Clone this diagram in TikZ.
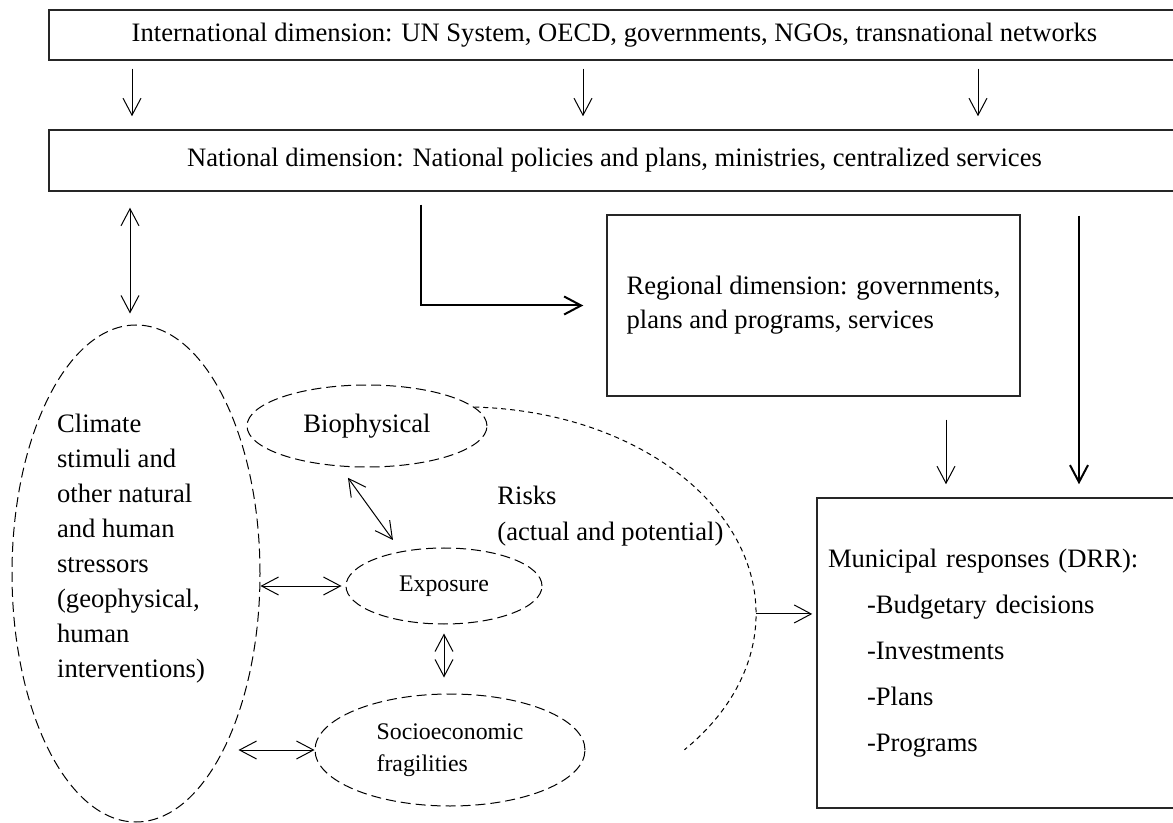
\documentclass[tikz,border=0pt]{standalone}
\usepackage{fontspec}
\setmainfont{Liberation Serif}
\usetikzlibrary{shapes.geometric,arrows.meta}
\begin{document}
\begin{tikzpicture}[x=0.5pt, y=-0.5pt, >={Straight Barb[length=8.5pt,width=9pt]},
    box_style/.style={rectangle, draw=black!85, line width=0.75pt, inner sep=0pt, font=\fontsize{13.3}{17}\selectfont},
    zone_style/.style={ellipse, draw, dash pattern=on 5pt off 2.5pt, line width=0.5pt, inner sep=0pt, font=\fontsize{13.3}{17}\selectfont},
    small_zone_style/.style={zone_style, font=\fontsize{11.9}{16}\selectfont},
    text_style/.style={inner sep=0pt, align=left, font=\fontsize{13.3}{17.5}\selectfont},
    arrow_line/.style={draw=black, line width=0.5pt, ->},
    both_line/.style={draw=black, line width=0.5pt, <->},
    thick_line/.style={draw=black, line width=1pt, ->},
    risk_line/.style={draw=black, line width=0.5pt, dash pattern=on 2.5pt off 2pt}]

    \useasboundingbox (0,0) rectangle (1173,823);
    \clip (0,0) rectangle (1173,823);

    \node[box_style, minimum width=565.5pt, minimum height=25pt] (intl) at (614.5,35) {International dimension: UN System, OECD, governments, NGOs, transnational networks};
    \node[box_style, minimum width=565.5pt, minimum height=30.5pt] (natl) at (614.5,160.5) {National dimension: National policies and plans, ministries, centralized services};
    \node[box_style, minimum width=206.5pt, minimum height=90.5pt, align=left] (region) at (813.5,305.5) {Regional dimension: governments,\\plans and programs, services};
    \node[box_style, minimum width=181.5pt, minimum height=155pt, text width=170.5pt, inner xsep=5.5pt, align=left, font=\fontsize{13.3}{23}\selectfont] (muni) at (998.5,653) {Municipal responses (DRR):\\\hspace*{19.5pt}-Budgetary decisions\\\hspace*{19.5pt}-Investments\\\hspace*{19.5pt}-Plans\\\hspace*{19.5pt}-Programs};

    \node[zone_style, minimum width=124pt, minimum height=248.5pt] (climate) at (136,573.5) {};
    \node[text_style] (climatetext) at (131,549) {Climate\\stimuli and\\other natural\\and human\\stressors\\(geophysical,\\human\\interventions)};
    \node[zone_style, minimum width=120pt, minimum height=41pt] (bio) at (367,426) {Biophysical};
    \node[small_zone_style, minimum width=98pt, minimum height=38pt] (exp) at (444,586) {Exposure};
    \node[small_zone_style, minimum width=135pt, minimum height=56pt, align=left] (socio) at (450,750) {Socioeconomic\\fragilities};
    \node[text_style, font=\fontsize{13.3}{18}\selectfont, anchor=west] (risks) at (497,516) {Risks\\(actual and potential)};

    \foreach \x in {132,583,978}
        \draw[arrow_line, shorten <=4pt, shorten >=6.5pt] (intl.south -| \x,0) -- (natl.north -| \x,0);
    \draw[both_line, shorten <=8pt, shorten >=5.5pt] (natl.south -| 130,0) -- (climate.north -| 130,0);
    \draw[thick_line, shorten <=6.5pt, shorten >=11.5pt] (natl.south -| 421,0) |- (region.west);
    \draw[thick_line, shorten <=12pt, shorten >=6.5pt] (natl.south -| 1079,0) -- (muni.north -| 1079,0);
    \draw[arrow_line, shorten <=11.5pt, shorten >=6.5pt] (region.south -| 946,0) -- (muni.north -| 946,0);

    \draw[both_line, shorten <=7pt, shorten >=7pt] (bio.236) -- (exp.141);
    \draw[both_line, shorten >=2pt] (climate.east |- exp.west) -- (exp.west);
    \draw[both_line, shorten <=4.5pt, shorten >=8pt] (exp.south) -- (exp.south |- socio.north);
    \draw[both_line] ([xshift=-11pt]climate.east |- socio.west) -- (socio.west);

    \draw[risk_line] (bio.10) arc[start angle=88, end angle=0, x radius=146pt, y radius=103.5pt] coordinate (riskedge)
        arc[start angle=0, end angle=-41, x radius=146pt, y radius=103.5pt];
    \draw[arrow_line, shorten >=2pt] (riskedge) -- (riskedge -| muni.west);
\end{tikzpicture}
\end{document}
